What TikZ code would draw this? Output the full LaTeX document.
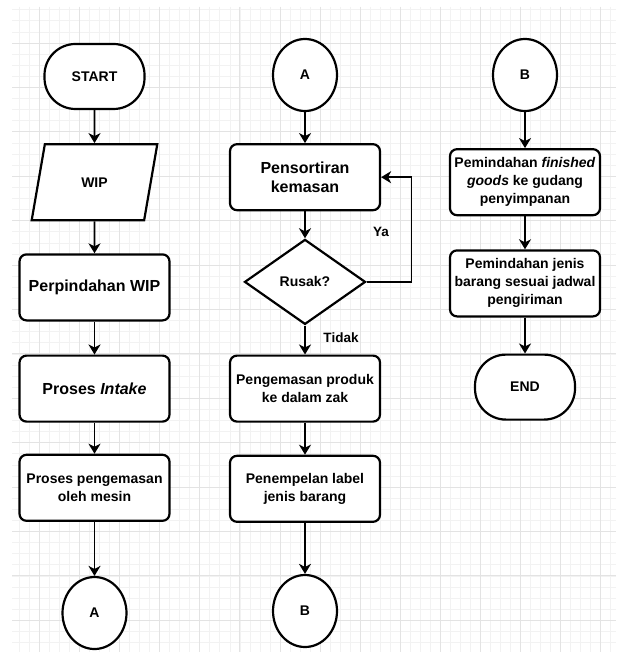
\documentclass[tikz,border=0pt]{standalone}
\usepackage{fontspec}
\setmainfont{Liberation Sans}
\usetikzlibrary{positioning, shapes.geometric, arrows.meta}

\begin{document}
\begin{tikzpicture}[x=1pt, y=-1pt,
  base/.style={draw, line width=2.2pt, fill=white, inner sep=0pt, align=center,
    font=\fontsize{14}{18}\selectfont\bfseries},
  terminal/.style={base, rectangle, rounded corners=31pt, minimum width=100pt, minimum height=65pt},
  process/.style={base, rectangle, rounded corners=7pt, minimum width=150pt, minimum height=66pt},
  inout/.style={base, trapezium, trapezium left angle=70, trapezium right angle=110,
    trapezium stretches=true, minimum width=126pt, minimum height=76pt},
  decision/.style={base, diamond, aspect=1.4, minimum width=121pt, minimum height=85pt},
  connector/.style={base, ellipse, minimum width=64pt, minimum height=72pt},
  bigtext/.style={font=\fontsize{16}{19}\selectfont\bfseries},
  answer/.style={font=\fontsize{13.5}{16}\selectfont\bfseries},
  arrow/.style={line width=1.6pt, -{Stealth[length=10pt, width=12pt, inset=3pt]}},
  gridminor/.style={draw=black!5, line width=0.6pt},
  gridmajor/.style={draw=black!11, line width=0.8pt}]
  \fill[white] (0,0) rectangle (616,652);
  \useasboundingbox (0,0) rectangle (616,652);

  % grid
  \foreach \k in {1,...,60}
    \draw[gridminor] ({9.25+10.025*\k},7) -- ({9.25+10.025*\k},652);
  \foreach \k in {1,...,58}
    \draw[gridminor] (12,{-1.4+11.1*\k}) -- (616,{-1.4+11.1*\k});
  \foreach \k in {0,...,14}
    \draw[gridmajor] ({39.3+40.1*\k},7) -- ({39.3+40.1*\k},652);
  \foreach \k in {0,...,13}
    \draw[gridmajor] (12,{43+44.4*\k}) -- (616,{43+44.4*\k});

  % kolom 1
  \node[terminal] (start) at (94.5,76.5) {START};
  \node[inout, below=33pt of start] (wip) {WIP};
  \node[process, bigtext, below=32pt of wip] (pindah) {Perpindahan WIP};
  \node[process, bigtext, below=33pt of pindah] (intake) {Proses \textit{Intake}};
  \node[process, below=31pt of intake] (mesin) {Proses pengemasan\\oleh mesin};
  \node[connector, below=54pt of mesin] (conA) {A};

  % kolom 2
  \node[connector] (conA2) at (305,75) {A};
  \node[process, bigtext, below=31pt of conA2] (sortir) {Pensortiran\\kemasan};
  \node[decision, below=27pt of sortir] (rusak) {Rusak?};
  \node[process, below=29pt of rusak] (kemas) {Pengemasan produk\\ke dalam zak};
  \node[process, below=32pt of kemas] (label) {Penempelan label\\jenis barang};
  \node[connector, below=51pt of label] (conB) {B};
  \node[answer] (ya) at (381,232) {Ya};
  \node[answer] (tidak) at (341,337.5) {Tidak};

  % kolom 3
  \node[connector] (conB2) at (525,75) {B};
  \node[process, below=36pt of conB2] (gudang) {Pemindahan \textit{finished}\\\textit{goods} ke gudang\\penyimpanan};
  \node[process, below=33pt of gudang] (jadwal) {Pemindahan jenis\\barang sesuai jadwal\\pengiriman};
  \node[terminal, below=36pt of jadwal] (finish) {END};

  \draw[arrow] (start) -- (wip);
  \draw[arrow] (wip) -- (pindah);
  \draw[arrow] (pindah) -- (intake);
  \draw[arrow] (intake) -- (mesin);
  \draw[arrow] (mesin) -- (conA);

  \draw[arrow] (conA2) -- (sortir);
  \draw[arrow] (sortir) -- (rusak);
  \draw[arrow] (rusak.east) -- ++(45pt,0) |- (sortir.east);
  \draw[arrow] (rusak) -- (kemas);
  \draw[arrow] (kemas) -- (label);
  \draw[arrow] (label) -- (conB);

  \draw[arrow] (conB2) -- (gudang);
  \draw[arrow] (gudang) -- (jadwal);
  \draw[arrow] (jadwal) -- (finish);
\end{tikzpicture}
\end{document}
